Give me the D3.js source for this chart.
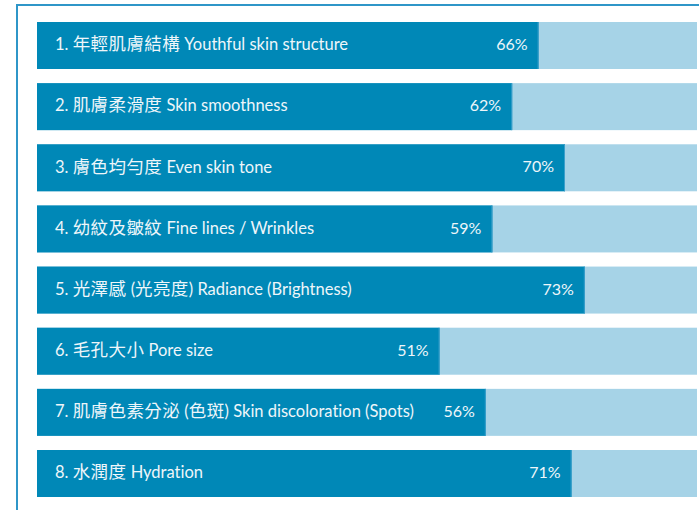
<!DOCTYPE html>
<html lang="zh-Hant">
<head>
  <meta charset="UTF-8" />
  <title>Skin improvement</title>
  <script src="https://d3js.org/d3.v7.min.js"></script>
  <style>
    body { margin: 0; background: #fff; }
    svg { display: block; font-family: Lato, "Noto Sans CJK TC", sans-serif; font-variant-ligatures: none; }
    .label { fill: #eef6fa; font-size: 16.5px; }
    .label .cjk { font-size: 17.5px; letter-spacing: 0.4px; }
    .pct { fill: #eef6fa; font-size: 16px; }
  </style>
</head>
<body>
  <svg id="chart" width="699" height="510"></svg>

  <script>
    const categories = [
      "1. 年輕肌膚結構 Youthful skin structure",
      "2. 肌膚柔滑度 Skin smoothness",
      "3. 膚色均勻度 Even skin tone",
      "4. 幼紋及皺紋 Fine lines / Wrinkles",
      "5. 光澤感 (光亮度) Radiance (Brightness)",
      "6. 毛孔大小 Pore size",
      "7. 肌膚色素分泌 (色斑) Skin discoloration (Spots)",
      "8. 水潤度 Hydration"
    ];
    // bar lengths as drawn in the picture
    const values = [66, 62, 70, 59, 73, 51, 58, 71];
    // printed labels
    const pctLabels = ["66%", "62%", "70%", "59%", "73%", "51%", "56%", "71%"];

    const svg = d3.select("#chart");

    // frame
    svg.append("rect")
      .attr("x", 17).attr("y", 5)
      .attr("width", 720).attr("height", 560)
      .attr("fill", "none")
      .attr("stroke", "#2f96c8")
      .attr("stroke-width", 2);

    const x = d3.scaleLinear().domain([-10, 90]).range([37, 697]);
    const y = d3.scaleBand()
      .domain(categories)
      .range([22, 497])
      .paddingInner(0.2313)
      .paddingOuter(0);

    const row = svg.selectAll("g.row")
      .data(categories)
      .join("g")
      .attr("class", "row")
      .attr("transform", d => `translate(0,${y(d)})`);

    row.append("rect")
      .attr("x", x(-10))
      .attr("width", x(90) - x(-10))
      .attr("height", y.bandwidth())
      .attr("fill", "#a6d3e7");

    row.append("rect")
      .attr("x", x(-10))
      .attr("width", (d, i) => x(values[i]) - x(-10))
      .attr("height", y.bandwidth())
      .attr("fill", "#0088b7");

    row.append("rect")
      .attr("x", (d, i) => x(values[i]) - 1)
      .attr("width", 1)
      .attr("height", y.bandwidth())
      .attr("fill", "#3a9fcb");

    // split each label into CJK and latin runs
    const runs = s => s.split(/([\u3400-\u9fff]+)/).filter(t => t.length)
      .map(t => ({ t, cjk: /[\u3400-\u9fff]/.test(t) }));

    row.append("text")
      .attr("class", "label")
      .attr("x", 55)
      .attr("y", y.bandwidth() / 2 - 1)
      .attr("dy", "0.35em")
      .selectAll("tspan")
      .data(d => runs(d))
      .join("tspan")
      .attr("class", r => r.cjk ? "cjk" : null)
      .text(r => r.t);

    row.append("text")
      .attr("class", "pct")
      .attr("x", (d, i) => x(values[i]) - 11)
      .attr("y", y.bandwidth() / 2 - 1)
      .attr("dy", "0.35em")
      .attr("text-anchor", "end")
      .text((d, i) => pctLabels[i]);
  </script>
</body>
</html>
